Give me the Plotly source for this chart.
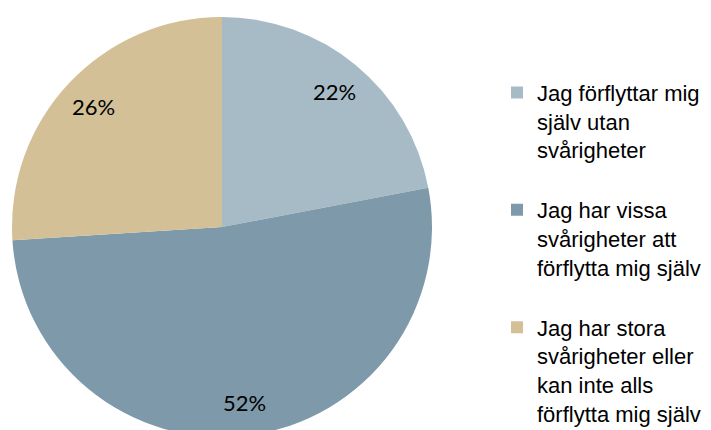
import math
import plotly.graph_objects as go

labels = [
    "Jag förflyttar mig<br>själv utan<br>svårigheter<br> ",
    "Jag har vissa<br>svårigheter att<br>förflytta mig själv<br> ",
    "Jag har stora<br>svårigheter eller<br>kan inte alls<br>förflytta mig själv",
]
values = [22, 52, 26]
colors = ["#A7BBC7", "#7E9AAA", "#D3C096"]

W, H = 711, 444
T, B = 17, 7
dom_x = [12 / W, 432 / W]

fig = go.Figure(go.Pie(
    labels=labels,
    values=values,
    sort=False,
    direction="clockwise",
    rotation=0,
    marker=dict(colors=colors, line=dict(width=0)),
    textinfo="none",
    domain=dict(x=dom_x, y=[0, 1]),
    hoverinfo="skip",
))

# percentage labels placed along each slice's mid-angle (derived from the data)
total = sum(values)
plot_h = H - T - B
cx = (dom_x[0] + dom_x[1]) / 2
cy = 0.5
r_px = min((dom_x[1] - dom_x[0]) * W, plot_h) / 2
frac = 0.84
cum = 0.0
annotations = []
for v in values:
    mid = (cum + v / 2) / total * 2 * math.pi
    cum += v
    dx = math.sin(mid) * r_px * frac / W
    dy = math.cos(mid) * r_px * frac / plot_h
    annotations.append(dict(
        x=cx + dx, y=cy + dy, xref="paper", yref="paper",
        text=f"{round(v / total * 100)}%", showarrow=False,
        font=dict(family="Lato", size=22, color="#000000"),
        xanchor="center", yanchor="middle",
    ))

fig.update_layout(
    width=W, height=H, autosize=False,
    margin=dict(l=0, r=0, t=T, b=B),
    paper_bgcolor="white",
    plot_bgcolor="white",
    showlegend=True,
    annotations=annotations,
    legend=dict(
        x=497 / W, xanchor="left",
        y=0.87, yanchor="top",
        valign="top",
        font=dict(family="Liberation Sans", size=22, color="#000000"),
        bgcolor="rgba(0,0,0,0)",
    ),
)

fig.write_html(
    "out.html",
    post_script="document.body.style.margin='0';document.body.style.overflow='hidden';document.documentElement.style.overflow='hidden';",
)
